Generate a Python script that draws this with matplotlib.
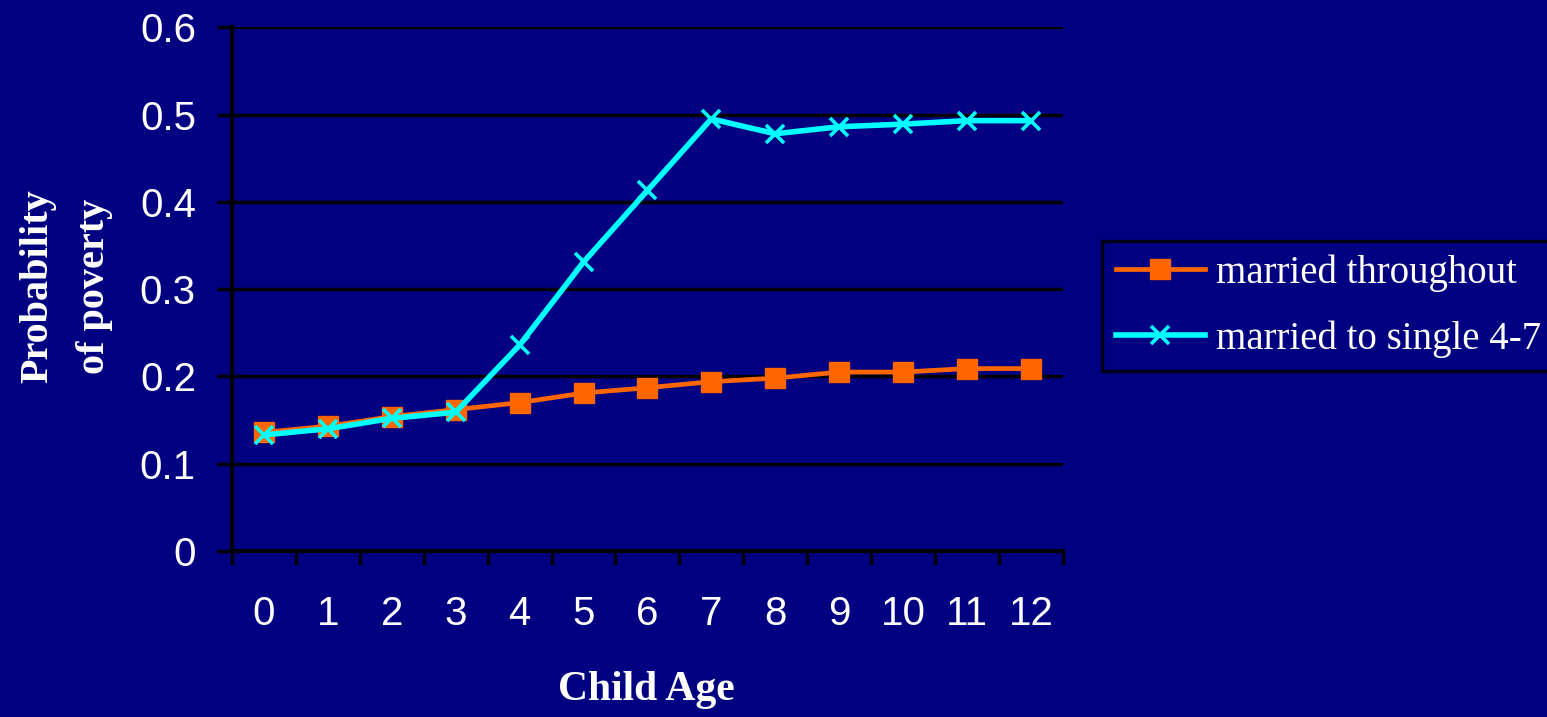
import numpy as np
import matplotlib
matplotlib.use("Agg")
import matplotlib.pyplot as plt

# values
ages = ["0", "1", "2", "3", "4", "5", "6", "7", "8", "9", "10", "11", "12"]
married_throughout = [0.136, 0.143, 0.154, 0.162, 0.170, 0.181, 0.187, 0.194, 0.198, 0.205, 0.205, 0.209, 0.209]
married_to_single = [0.133, 0.140, 0.152, 0.159, 0.236, 0.331, 0.413, 0.495, 0.478, 0.486, 0.489, 0.493, 0.493]
yticks = [0, 0.1, 0.2, 0.3, 0.4, 0.5, 0.6]
ytick_labels = ["0", "0.1", "0.2", "0.3", "0.4", "0.5", "0.6"]

navy = "#000080"
orange = "#FF6600"
cyan = "#00FFFF"

fig = plt.figure(figsize=(15.47, 7.17), dpi=100, facecolor=navy)
ax = fig.add_axes([0.15, 0.2315, 0.537, 0.7305])
ax.set_facecolor(navy)

x = np.arange(len(ages))
ax.plot(x, married_throughout, color=orange, lw=3.4, marker="s", ms=14.5,
        mfc=orange, mec=orange, label="married throughout", zorder=3)
ax.plot(x, married_to_single, color=cyan, lw=4.0, marker="x", ms=13,
        mew=2.6, mec=cyan, label="married to single 4-7", zorder=4)

ax.set_xlim(-0.5, len(ages) - 0.5)
ax.set_ylim(0, 0.6)

ax.set_yticks(yticks)
ax.set_yticklabels(ytick_labels, family="Liberation Sans", fontsize=29, color="white")
ax.yaxis.grid(True, color="black", lw=2.5, zorder=1)
ax.tick_params(axis="y", length=11, width=2.5, color="black", pad=15, direction="out")

ax.set_xticks(x)
ax.set_xticklabels(ages, family="Liberation Sans", fontsize=29, color="white")
ax.set_xticks(np.arange(-0.5, len(ages), 1), minor=True)
ax.tick_params(axis="x", which="major", length=0, pad=32)
ax.tick_params(axis="x", which="minor", length=10, width=2.5, color="black", direction="out")

for side in ["top", "right"]:
    ax.spines[side].set_visible(False)
for side in ["left", "bottom"]:
    ax.spines[side].set_color("black")
    ax.spines[side].set_linewidth(3)
ax.set_axisbelow(True)

fig.text(0.418, 0.038, "Child Age", family="Liberation Serif", weight="bold",
         fontsize=30, color="white", ha="center", va="center")
fig.text(0.043, 0.601, "Probability\nof poverty", family="Liberation Serif", weight="bold",
         fontsize=29, color="white", ha="center", va="center", rotation=90,
         linespacing=1.7)

leg = ax.legend(loc="center left", bbox_to_anchor=(1102 / 1547, 1 - 306 / 717),
                bbox_transform=fig.transFigure, frameon=True, fancybox=False,
                prop={"family": "Liberation Serif", "size": 28},
                handlelength=2.3, handletextpad=0.28, labelspacing=0.72,
                borderpad=0.35, borderaxespad=0)
leg.get_frame().set_facecolor(navy)
leg.get_frame().set_edgecolor("black")
leg.get_frame().set_linewidth(2.5)
for t in leg.get_texts():
    t.set_color("white")

fig.savefig("out.png", dpi=100, facecolor=navy)
